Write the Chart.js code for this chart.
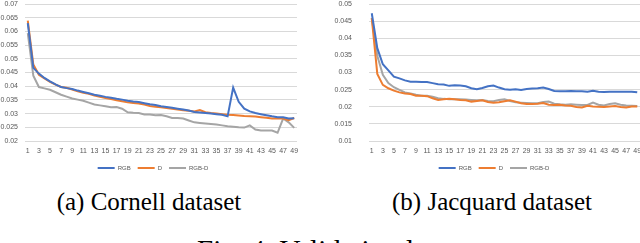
<!DOCTYPE html>
<html><head><meta charset="utf-8">
<script src="https://cdn.jsdelivr.net/npm/chart.js@4.4.1/dist/chart.umd.min.js"></script>
<style>
html,body{margin:0;padding:0;width:640px;height:243px;overflow:hidden;background:#fff;}
canvas{position:absolute;top:0;}
.cap{position:absolute;font-family:"Liberation Serif","Times New Roman",serif;color:#000;white-space:nowrap;}
</style></head><body>
<canvas id="c1" width="306" height="181" style="left:0px"></canvas>
<canvas id="c2" width="320" height="181" style="left:320px"></canvas>
<div class="cap" style="left:0;width:298px;top:189px;font-size:25px;line-height:25px;text-align:center">(a) Cornell dataset</div>
<div class="cap" style="left:342px;width:300px;top:189px;font-size:25px;line-height:25px;text-align:center">(b) Jacquard dataset</div>
<div class="cap" style="left:197px;top:236px;font-size:29px;line-height:29px">Fig. 4: Validation loss</div>
<script>
const epochs = [1,2,3,4,5,6,7,8,9,10,11,12,13,14,15,16,17,18,19,20,21,22,23,24,25,26,27,28,29,30,31,32,33,34,35,36,37,38,39,40,41,42,43,44,45,46,47,48,49];
const seriesNames = ['RGB','D','RGB-D'];
const seriesColors = ['#4472C4','#ED7D31','#A5A5A5'];

// Cornell dataset
const cornellRGB = [0.063,0.0467,0.0446,0.043,0.0418,0.0407,0.0397,0.0393,0.039,0.0384,0.0379,0.0374,0.0369,0.0365,0.0361,0.0358,0.0354,0.0351,0.0347,0.0344,0.0342,0.0338,0.0334,0.0331,0.0327,0.0324,0.0321,0.0318,0.0315,0.0311,0.0306,0.0304,0.0302,0.03,0.0298,0.0296,0.029,0.0395,0.0343,0.0318,0.0308,0.0302,0.0298,0.0294,0.029,0.0287,0.0287,0.0282,0.0283];
const cornellD = [0.0639,0.0479,0.0442,0.0428,0.0416,0.0406,0.0397,0.0394,0.0388,0.0381,0.0376,0.0372,0.0366,0.0361,0.0357,0.0353,0.0349,0.0345,0.0341,0.0339,0.0337,0.0333,0.0328,0.0325,0.0323,0.032,0.0318,0.0315,0.0312,0.031,0.0308,0.0313,0.0305,0.0302,0.03,0.0298,0.0296,0.0295,0.0293,0.0291,0.029,0.0289,0.0287,0.0285,0.0282,0.0282,0.0282,0.0276,0.0284];
const cornellRGBD = [0.0594,0.0438,0.0397,0.0392,0.0387,0.0378,0.0369,0.0362,0.0355,0.0351,0.0347,0.034,0.0333,0.033,0.0327,0.0323,0.0324,0.0318,0.0305,0.0303,0.0302,0.0297,0.0297,0.0294,0.0295,0.029,0.0284,0.0284,0.0282,0.0275,0.0268,0.0266,0.0264,0.0262,0.026,0.0257,0.0254,0.0252,0.025,0.0249,0.0257,0.0242,0.0238,0.0238,0.0238,0.023,0.0282,0.0268,0.0248];
const cornellYTicks = {min:0.02, max:0.07, step:0.005};

// Jacquard dataset
const jacquardRGB = [0.0473,0.0371,0.0324,0.0306,0.0288,0.0283,0.0277,0.0273,0.0273,0.0272,0.0272,0.0269,0.0266,0.0265,0.0261,0.0263,0.0262,0.026,0.0254,0.0251,0.0255,0.026,0.0262,0.0256,0.0251,0.025,0.0251,0.0249,0.0252,0.0253,0.0254,0.0256,0.0252,0.0246,0.0245,0.0245,0.0246,0.0245,0.0245,0.0244,0.0247,0.0244,0.0243,0.0244,0.0244,0.0244,0.0244,0.0244,0.0242];
const jacquardD = [0.0459,0.0296,0.0264,0.0254,0.0247,0.0242,0.0239,0.0237,0.0232,0.0232,0.0231,0.0225,0.022,0.0222,0.0223,0.0222,0.022,0.0219,0.0215,0.0217,0.0219,0.0214,0.0212,0.0213,0.0216,0.0219,0.0215,0.021,0.0208,0.0208,0.0209,0.0211,0.0206,0.0205,0.0206,0.0204,0.0203,0.0199,0.0198,0.0203,0.0201,0.02,0.0199,0.0201,0.0202,0.0199,0.0198,0.0201,0.0201];
const jacquardRGBD = [0.0459,0.0349,0.0293,0.0269,0.0257,0.0249,0.0242,0.0239,0.0235,0.0232,0.0232,0.0229,0.0225,0.0223,0.0222,0.0222,0.0222,0.0221,0.022,0.0219,0.022,0.0217,0.0216,0.022,0.0222,0.0217,0.0213,0.0212,0.0211,0.021,0.021,0.0214,0.0215,0.0209,0.0207,0.0206,0.0207,0.0206,0.0205,0.0205,0.0212,0.0206,0.0204,0.0208,0.021,0.0206,0.0204,0.0203,0.0202];
const jacquardYTicks = {min:0.01, max:0.05, step:0.005};

const tickFont = {family:'"Liberation Sans", Arial, sans-serif', size:7};
const tickColor = '#595959';

const legendShift = {
  id:'legendShift',
  afterLayout(chart, args, opts){
    const lg = chart.legend;
    if (!lg || opts.center == null) return;
    const dx = opts.center - (lg.left + lg.right) / 2;
    lg.left += dx; lg.right += dx;
  }
};

function makeChart(id, seriesList, yt, yWidth, yPad, padRight, legendCenter){
  const datasets = seriesList.map((d,i)=>({
    label: seriesNames[i], data: d,
    borderColor: seriesColors[i], backgroundColor: seriesColors[i],
    borderWidth: 2, pointRadius: 0, tension: 0, fill:false
  }));
  return new Chart(document.getElementById(id), {
    type:'line',
    data:{labels: epochs, datasets},
    plugins:[legendShift],
    options:{
      responsive:false, animation:false, devicePixelRatio:1,
      layout:{padding:{left:0, right:padRight, top:4, bottom:0}},
      plugins:{
        tooltip:{enabled:false},
        legendShift:{center:legendCenter},
        legend:{
          position:'bottom',
          labels:{
            boxWidth:17, boxHeight:2, padding:7, color:tickColor,
            font:{family:tickFont.family, size:6},
            generateLabels:(chart)=>{
              const items = Chart.defaults.plugins.legend.labels.generateLabels(chart);
              items.forEach(it=>{it.lineWidth=0;});
              return items;
            }
          }
        }
      },
      scales:{
        x:{
          offset:true,
          grid:{display:false, drawTicks:false},
          border:{display:false},
          ticks:{autoSkip:false, maxRotation:0, minRotation:0, padding:6, color:tickColor, font:tickFont,
            callback:(v,i)=> i%2===0 ? String(epochs[i]) : ''},
          afterFit:(s)=>{s.height = 17; s.paddingLeft = 0; s.paddingRight = 0;}
        },
        y:{
          min:yt.min, max:yt.max,
          grid:{color:'#D9D9D9', lineWidth:1, drawTicks:false},
          border:{display:false},
          ticks:{stepSize:yt.step, padding:yPad, color:tickColor, font:tickFont,
            callback:(v)=> String(Number(v.toFixed(3)))},
          afterFit:(s)=>{s.width = yWidth; s.paddingTop = 0; s.paddingBottom = 0;}
        }
      }
    }
  });
}

makeChart('c1', [cornellRGB, cornellD, cornellRGBD], cornellYTicks, 25, 7, 9, 153);
makeChart('c2', [jacquardRGB, jacquardD, jacquardRGBD], jacquardYTicks, 49, 17, 0, 174);
</script>
</body></html>
